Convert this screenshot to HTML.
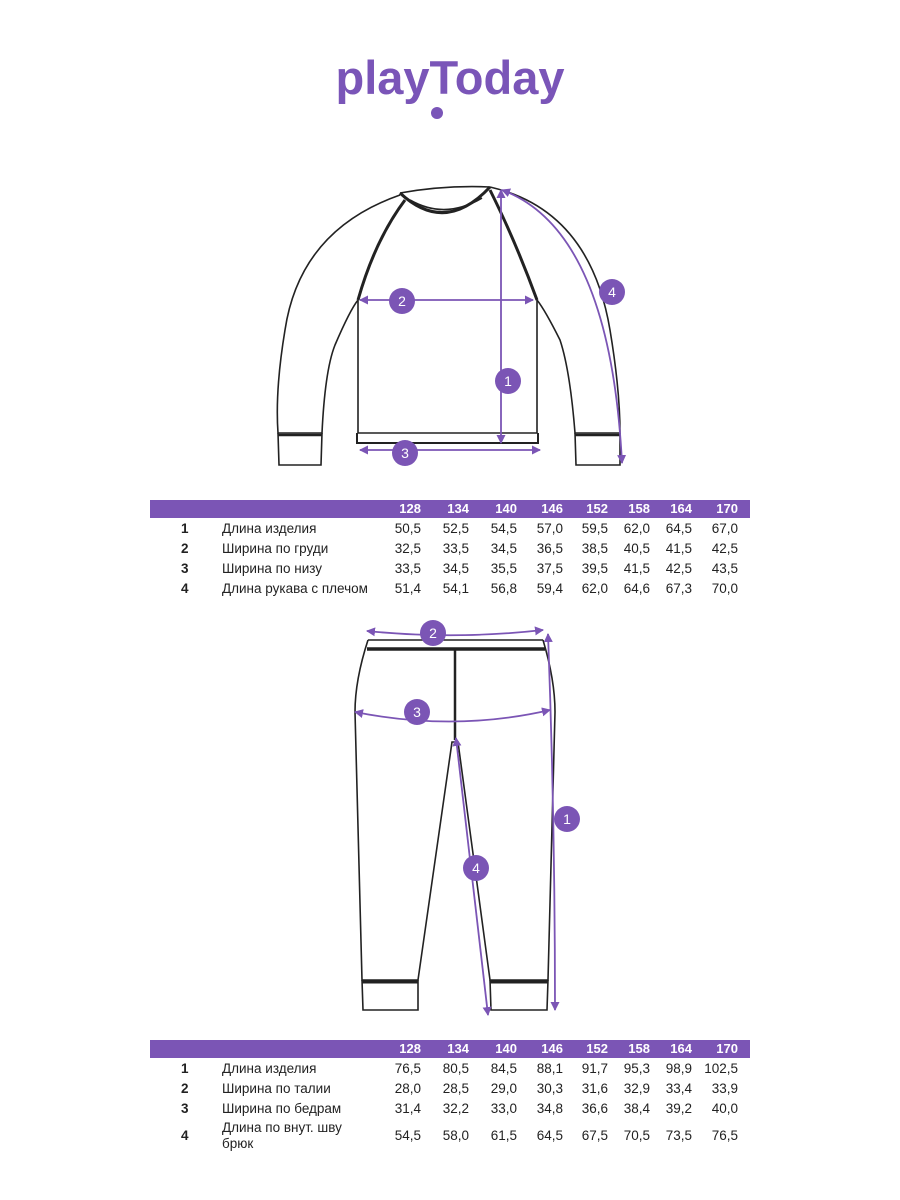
<!DOCTYPE html>
<html><head><meta charset="utf-8"><style>
body{margin:0;background:#fff;width:900px;height:1200px;position:relative;font-family:"Liberation Sans",sans-serif;overflow:hidden}
.logo{position:absolute;left:0;width:900px;top:50px;text-align:center;color:#7a55b8;font-size:47px;font-weight:bold;letter-spacing:0px}
.bar{position:absolute;left:150px;width:600px;height:18px;background:#7b55b5}
.t{position:absolute;font-size:13.5px;color:#222;white-space:nowrap}
.h{position:absolute;font-size:13px;color:#fff;font-weight:bold}
.r{text-align:right;width:40px}
</style></head><body>
<div class="logo">playToday</div>
<div style="position:absolute;left:431px;top:107px;width:12px;height:12px;border-radius:50%;background:#7a55b8"></div>
<svg width="900" height="1200" style="position:absolute;left:0;top:0">
<defs><marker id="a" markerWidth="10" markerHeight="10" refX="8" refY="4.5" orient="auto-start-reverse" markerUnits="userSpaceOnUse"><path d="M0,0L9,4.5L0,9z" fill="#7b55b5"/></marker></defs>
<g fill="none" stroke="#222" stroke-width="1.6">
<path d="M400,193 Q445,185 490,187"/>
<path d="M400,193 Q445,235 490,187" stroke-width="3"/>
<path d="M410,200 Q445,220 482,198"/>
<path d="M400,195 Q300,230 285,330 Q275,390 278,433 L322,433 Q325,370 335,345 Q350,310 358,300"/>
<path d="M490,187 Q590,210 610,330 Q620,390 620,433 L575,433 Q570,370 560,340 Q545,310 537,300"/>
<path d="M405,200 Q375,240 358,300" stroke-width="3"/>
<path d="M490,190 Q515,240 537,300" stroke-width="3"/>
<path d="M358,300 L358,433 L537,433 L537,300"/>
<path d="M357,433 L357,443 L538,443 L538,433" stroke-width="2"/>
<path d="M278,433 L279,465 L321,465 L322,433"/><path d="M278,435 L322,435" stroke-width="2.5"/>
<path d="M575,433 L576,465 L620,465 L620,433"/><path d="M575,435 L620,435" stroke-width="2.5"/>
<path d="M368,640 L543,640"/>
<path d="M367,649 L545,649" stroke-width="3.5"/>
<path d="M368,640 Q355,680 355,712 L362,980 L418,980 L452,742 L458,742 L490,980 L548,980 L555,712 Q555,680 543,640"/>
<path d="M455,648 L455,740" stroke-width="2.5"/>
<path d="M362,980 L363,1010 L418,1010 L418,980"/><path d="M362,982 L418,982" stroke-width="3"/>
<path d="M490,980 L491,1010 L547,1010 L548,980"/><path d="M490,982 L548,982" stroke-width="3"/>
</g>
<g fill="none" stroke="#7b55b5" stroke-width="1.8">
<path d="M501,190 L501,443" marker-start="url(#a)" marker-end="url(#a)"/>
<path d="M360,300 L533,300" marker-start="url(#a)" marker-end="url(#a)"/>
<path d="M360,450 L540,450" marker-start="url(#a)" marker-end="url(#a)"/>
<path d="M502,190 Q610,230 622,463" marker-start="url(#a)" marker-end="url(#a)"/>
<path d="M367,631 Q455,640 543,630" marker-start="url(#a)" marker-end="url(#a)"/>
<path d="M355,712 Q455,732 550,710" marker-start="url(#a)" marker-end="url(#a)"/>
<path d="M548,634 Q555,820 555,1010" marker-start="url(#a)" marker-end="url(#a)"/>
<path d="M456,738 L488,1015" marker-start="url(#a)" marker-end="url(#a)"/>
</g>
<g fill="#7b55b5">
<circle cx="508" cy="381" r="13"/><circle cx="402" cy="301" r="13"/><circle cx="405" cy="453" r="13"/><circle cx="612" cy="292" r="13"/>
<circle cx="433" cy="633" r="13"/><circle cx="417" cy="712" r="13"/><circle cx="567" cy="819" r="13"/><circle cx="476" cy="868" r="13"/>
</g>
<g fill="#fff" font-size="14" font-family="Liberation Sans" text-anchor="middle">
<text x="508" y="386">1</text><text x="402" y="306">2</text><text x="405" y="458">3</text><text x="612" y="297">4</text>
<text x="433" y="638">2</text><text x="417" y="717">3</text><text x="567" y="824">1</text><text x="476" y="873">4</text>
</g>
</svg>
<div class="bar" style="top:500px"></div>
<div class="bar" style="top:1040px"></div>
<div id="tables"></div>
<script>
var cols=[421,469,517,563,608,650,692,738],hs=["128","134","140","146","152","158","164","170"];
var out="";
function tbl(hy,rows){
 hs.forEach(function(h,i){out+='<div class="h r" style="left:'+(cols[i]-40)+'px;top:'+(hy+1)+'px">'+h+'</div>';});
 rows.forEach(function(r){
  out+='<div class="t" style="left:181px;top:'+r[0]+'px;font-weight:bold">'+r[1]+'</div>';
  out+='<div class="t" style="left:222px;top:'+(r[3]||r[0])+'px;line-height:16px">'+r[2]+'</div>';
  r[4].forEach(function(v,i){out+='<div class="t r" style="left:'+(cols[i]-40)+'px;top:'+r[0]+'px">'+v+'</div>';});
 });
}
tbl(500,[[521,"1","Длина изделия",0,["50,5","52,5","54,5","57,0","59,5","62,0","64,5","67,0"]],
[541,"2","Ширина по груди",0,["32,5","33,5","34,5","36,5","38,5","40,5","41,5","42,5"]],
[561,"3","Ширина по низу",0,["33,5","34,5","35,5","37,5","39,5","41,5","42,5","43,5"]],
[581,"4","Длина рукава с плечом",0,["51,4","54,1","56,8","59,4","62,0","64,6","67,3","70,0"]]]);
tbl(1040,[[1061,"1","Длина изделия",0,["76,5","80,5","84,5","88,1","91,7","95,3","98,9","102,5"]],
[1081,"2","Ширина по талии",0,["28,0","28,5","29,0","30,3","31,6","32,9","33,4","33,9"]],
[1101,"3","Ширина по бедрам",0,["31,4","32,2","33,0","34,8","36,6","38,4","39,2","40,0"]],
[1128,"4","Длина по внут. шву<br>брюк",1120,["54,5","58,0","61,5","64,5","67,5","70,5","73,5","76,5"]]]);
document.getElementById("tables").innerHTML=out;
</script>
</body></html>
